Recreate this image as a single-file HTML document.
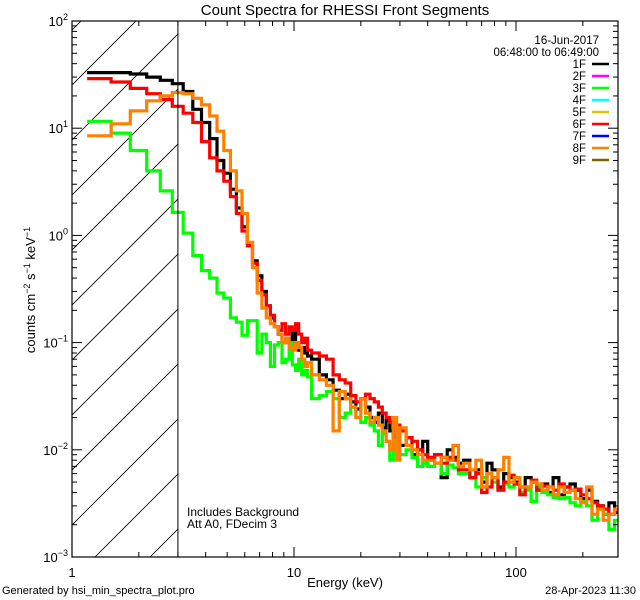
<!DOCTYPE html>
<html><head><meta charset="utf-8"><style>
html,body{margin:0;padding:0;background:#fff;overflow:hidden;width:640px;height:600px}
svg{display:block;font-family:"Liberation Sans",sans-serif}
</style></head><body>
<svg id="chart" width="640" height="600" viewBox="0 0 640 600">
<rect width="640" height="600" fill="#fff"/>
<defs><clipPath id="plotclip"><rect x="72" y="21" width="546" height="536"/></clipPath>
<clipPath id="hatchclip"><rect x="72" y="21" width="106" height="536"/></clipPath></defs>
<text x="345" y="15" font-size="15" text-anchor="middle">Count Spectra for RHESSI Front Segments</text>
<g id="hatch" clip-path="url(#hatchclip)"></g>
<g id="series" clip-path="url(#plotclip)"></g>
<g id="axes"></g>
<text x="345" y="587" font-size="13" text-anchor="middle">Energy (keV)</text>
<text transform="translate(35,290) rotate(-90)" font-size="13" text-anchor="middle">counts cm<tspan dy="-5" font-size="9">−2</tspan><tspan dy="5"> s</tspan><tspan dy="-5" font-size="9">−1</tspan><tspan dy="5"> keV</tspan><tspan dy="-5" font-size="9">−1</tspan></text>
<text x="187" y="516" font-size="12">Includes Background</text>
<text x="187" y="528" font-size="12">Att A0, FDecim 3</text>
<text x="599" y="44" font-size="11.5" text-anchor="end">16-Jun-2017</text>
<text x="599" y="56" font-size="11.5" text-anchor="end">06:48:00 to 06:49:00</text>
<g id="legend"></g>
<text x="2" y="594" font-size="11">Generated by hsi_min_spectra_plot.pro</text>
<text x="636" y="594" font-size="11" text-anchor="end">28-Apr-2023 11:30</text>
</svg>
<script>
const edges=[1.17,1.5,1.83,2.17,2.5,2.83,3.17,3.5,3.83,4.17,4.5,4.83,5.17,5.5,5.83,6.17,6.5,6.83,7.17,7.5,7.83,8.17,8.5,8.83,9.17,9.5,9.83,10.17,10.5,10.83,11.17,11.5,12,13,14,15,16,17,18,19,20,21,22,23,24,25,26,27,28,29,30,32,34,36,38,40,43,46,49,52,55,58,62,66,70,74,78,83,88,93,98,104,110,117,124,131,139,147,156,165,175,185,196,208,220,233,247,262,278,290];
const seg1F=[33,33,32,30,28,26,22,15,11.3,8,5,3.8,2.7,1.8,1.2,0.85,0.58,0.42,0.3,0.22,0.17,0.14,0.12,0.1,0.11,0.09,0.13,0.1,0.085,0.09,0.08,
0.075,0.07,0.05,0.045,0.036,0.03,0.033,0.028,0.024,0.03,0.025,0.02,0.018,0.022,0.016,0.019,0.015,0.013,0.014,
0.011,0.013,0.009,0.01,0.012,0.008,0.009,0.0055,0.01,0.0085,0.0075,0.008,0.0055,0.0065,0.005,0.0075,
0.0065,0.0045,0.006,0.0055,0.005,0.0045,0.0055,0.005,0.0042,0.0048,0.004,0.0055,0.0038,0.0045,0.0048,0.0042,0.0035,0.0042,0.0033,0.003,0.0025,0.0032,0.0026];
const seg3F=[11.6,9,6.2,4,2.6,1.64,1.05,0.65,0.47,0.4,0.29,0.26,0.17,0.155,0.117,0.16,0.16,0.08,0.12,0.1,0.06,0.095,0.1,0.065,0.07,0.1,0.062,0.055,0.07,0.05,0.055,
0.048,0.03,0.032,0.035,0.03,0.02,0.022,0.025,0.02,0.018,0.02,0.017,0.015,0.011,0.014,0.012,0.008,0.012,0.009,
0.009,0.01,0.0085,0.007,0.0075,0.007,0.0075,0.006,0.0072,0.0068,0.006,0.006,0.0055,0.0045,0.0055,0.0045,
0.005,0.0042,0.0048,0.0045,0.0048,0.004,0.0042,0.0033,0.0045,0.004,0.0038,0.0036,0.0035,0.0036,0.0032,0.003,0.0033,0.003,0.0022,0.0028,0.0025,0.0018,0.0022];
const seg6F=[29,27,23.5,21,18.5,16,13.8,11.3,7.5,5.3,4,3.2,2.3,1.6,1.1,0.8,0.55,0.38,0.28,0.22,0.18,0.14,0.13,0.15,0.12,0.14,0.13,0.15,0.12,0.1,0.11,
0.085,0.08,0.075,0.07,0.05,0.045,0.042,0.032,0.028,0.03,0.033,0.03,0.028,0.025,0.022,0.02,0.018,0.016,0.017,
0.015,0.013,0.012,0.01,0.009,0.0085,0.009,0.0075,0.0085,0.008,0.0065,0.0065,0.0055,0.006,0.004,0.0045,
0.0055,0.0042,0.005,0.0058,0.0048,0.0038,0.0045,0.0052,0.0042,0.0046,0.0045,0.0042,0.0048,0.0045,0.0042,0.0043,0.0038,0.0035,0.0032,0.003,0.0028,0.0025,0.0028];
const seg8F=[8.5,11,14.5,18,20,21.5,21,19,16.5,13,9.4,6.2,4,2.6,1.6,0.86,0.5,0.29,0.21,0.17,0.15,0.14,0.12,0.1,0.11,0.09,0.085,0.1,0.09,0.07,0.06,
0.065,0.05,0.045,0.04,0.015,0.035,0.03,0.025,0.02,0.03,0.022,0.018,0.02,0.017,0.015,0.012,0.01,0.02,0.008,
0.016,0.011,0.01,0.009,0.008,0.008,0.0075,0.0085,0.008,0.011,0.007,0.0075,0.0065,0.008,0.0045,0.006,
0.0055,0.0065,0.0085,0.005,0.0055,0.0045,0.0045,0.005,0.0048,0.0042,0.0045,0.0038,0.0045,0.004,0.0042,0.0035,0.0032,0.0045,0.0025,0.0028,0.0022,0.0025,0.0028];
const legendLabels=["1F","2F","3F","4F","5F","6F","7F","8F","9F"];
const legendColors=["#000","#ff00ff","#00ff00","#00ffff","#d4c800","#ff0000","#0000ff","#ff8000","#806000"];
const xTickLabels=["1","10","100"];

const NS="http://www.w3.org/2000/svg";
const X0=72,X1=618,Y0=21,Y1=557,DEC=222,XMAX=10**((X1-X0)/DEC);
const xs=e=>X0+Math.log10(e)*DEC;
const ys=v=>Y1-(Math.log10(v)+3)*(Y1-Y0)/5;
function mk(tag,attrs,parent){const el=document.createElementNS(NS,tag);for(const k in attrs)el.setAttribute(k,attrs[k]);parent.appendChild(el);return el;}

const hg=document.getElementById('hatch');
for(let i=-12;i<14;i++){const b=85+i*55;
 const l=mk('line',{x1:X0-10,y1:b+10,x2:X0+600,y2:b-600,stroke:'#000','stroke-width':0.8},hg);
 
 }
const ax=document.getElementById('axes');
const bl=mk('line',{x1:xs(3),y1:Y0,x2:xs(3),y2:Y1,stroke:'#000','stroke-width':1},ax);



const sg=document.getElementById('series');
function drawSeries(vals,color,name){let d='';
 for(let i=0;i<vals.length;i++){const x0=xs(edges[i]),x1=xs(edges[i+1]),y=ys(vals[i]);
  d+=(i===0?'M':'L')+x0.toFixed(1)+','+y.toFixed(1)+'L'+x1.toFixed(1)+','+y.toFixed(1);}
 const p=mk('path',{d:d,fill:'none',stroke:color,'stroke-width':3.2,'stroke-linejoin':'miter'},sg);
 
 }
drawSeries(seg1F,'#000','series-1f');
drawSeries(seg3F,'#00ff00','series-3f');
drawSeries(seg6F,'#ff0000','series-6f');
drawSeries(seg8F,'#ff8000','series-8f');

const fr=mk('rect',{x:X0,y:Y0,width:X1-X0,height:Y1-Y0,fill:'none',stroke:'#000','stroke-width':1.2},ax);


for(let d=0;d<3;d++)for(let m=1;m<10;m++){const e=m*10**d;if(e>XMAX)continue;const x=xs(e),L=m===1?10:5;
 const t1=mk('line',{x1:x,y1:Y1,x2:x,y2:Y1-L,stroke:'#000'},ax);
 
 
 const t2=mk('line',{x1:x,y1:Y0,x2:x,y2:Y0+L,stroke:'#000'},ax);
 
 }
xTickLabels.forEach((s,i)=>{const t=mk('text',{x:xs(10**i),y:Y1+20,'font-size':13,'text-anchor':'middle'},ax);t.textContent=s;
 
 });
for(let p=-3;p<=2;p++){for(let m=1;m<10;m++){if(p===2&&m>1)continue;const y=ys(m*10**p),L=m===1?10:5;
  const t1=mk('line',{x1:X0,y1:y,x2:X0+L,y2:y,stroke:'#000'},ax);
  
  
  const t2=mk('line',{x1:X1,y1:y,x2:X1-L,y2:y,stroke:'#000'},ax);
  
  }
 const t=mk('text',{x:X0-4,y:ys(10**p)+5,'font-size':13,'text-anchor':'end'},ax);
 t.innerHTML='10<tspan dy="-6" font-size="9">'+(p<0?'−'+(-p):p)+'</tspan>';
 
 }
const lg=document.getElementById('legend');
legendLabels.forEach((s,i)=>{const y=68+i*12;
 const t=mk('text',{x:586,y:y,'font-size':11.5,'text-anchor':'end'},lg);t.textContent=s;
 
 
 const l=mk('line',{x1:592,y1:y-4,x2:609,y2:y-4,stroke:legendColors[i],'stroke-width':2.5},lg);
 
 });
</script>
</body></html>
